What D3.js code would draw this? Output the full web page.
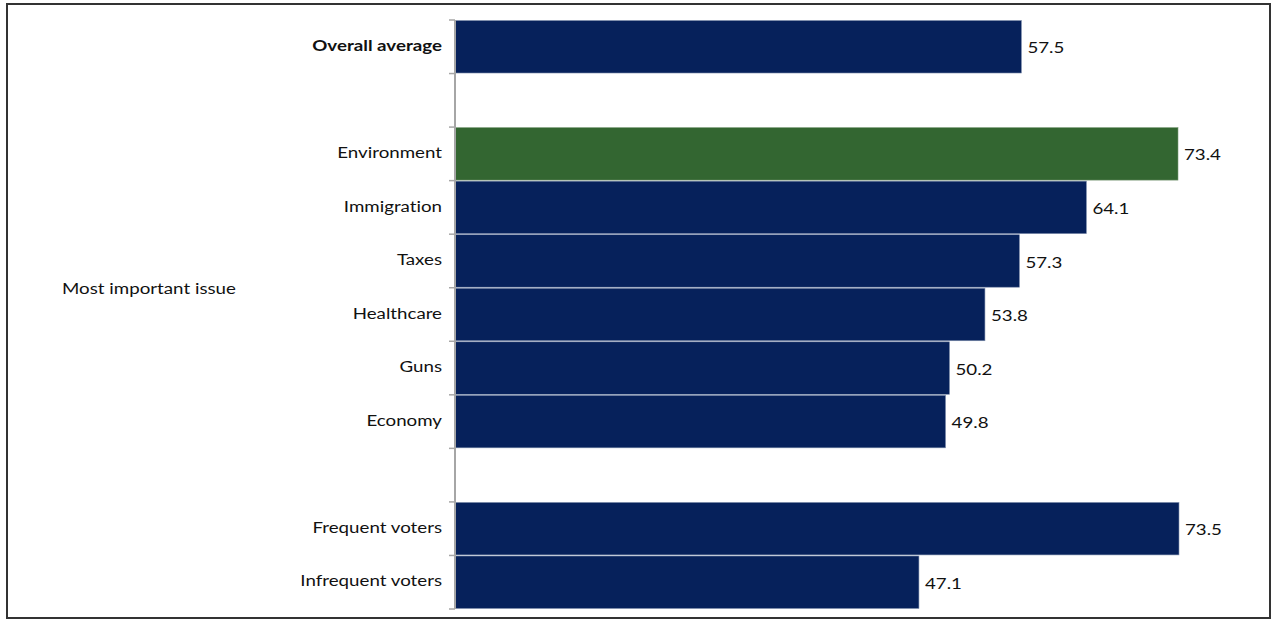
<!DOCTYPE html>
<html>
<head>
<meta charset="utf-8">
<script src="https://cdn.jsdelivr.net/npm/d3@7"></script>
<style>
  html, body { margin: 0; padding: 0; background: #fff; }
  svg { display: block; }
  text { font-family: Lato, "Open Sans", "Liberation Sans", sans-serif; fill: #111; font-variant-ligatures: none; }
</style>
</head>
<body>
<svg id="chart" width="1273" height="620"></svg>
<script>
// Rows from top to bottom; empty strings are spacer rows
const categories = ["Overall average", "", "Environment", "Immigration", "Taxes", "Healthcare", "Guns", "Economy", "", "Frequent voters", "Infrequent voters"];
const values = [57.5, null, 73.4, 64.1, 57.3, 53.8, 50.2, 49.8, null, 73.5, 47.1];
const highlighted = ["Environment"];
const boldLabels = ["Overall average"];
const groupLabel = "Most important issue";

const svg = d3.select("#chart");
const fontSize = 16;
const stretch = 1.17; // wide lettering

// outer frame
svg.append("rect")
  .attr("x", 7).attr("y", 4)
  .attr("width", 1263).attr("height", 614)
  .attr("fill", "none").attr("stroke", "#333").attr("stroke-width", 2);

const x0 = 455, plotTop = 20, plotBottom = 609;
const rowKeys = categories.map((c, i) => i);

const x = d3.scaleLinear().domain([0, 73.4]).range([x0, 1178]);
const y = d3.scaleBand().domain(rowKeys).range([plotTop, plotBottom]).paddingInner(0.02).paddingOuter(0.01);
const yTicks = d3.scaleBand().domain(rowKeys).range([plotTop, plotBottom]);

const rows = categories.map((c, i) => ({ i, c, v: values[i] }));
const place = (px, py) => `translate(${px},${py}) scale(${stretch},1)`;

// bars
svg.append("g").selectAll("rect")
  .data(rows.filter(d => d.v !== null))
  .join("rect")
  .attr("x", x(0))
  .attr("y", d => y(d.i))
  .attr("width", d => x(d.v) - x(0))
  .attr("height", y.bandwidth())
  .attr("fill", d => highlighted.includes(d.c) ? "#336631" : "#06215b")
  .attr("stroke", d => highlighted.includes(d.c) ? "#7a9a76" : "#7c8cab")
  .attr("stroke-width", 0.6);

// value labels
svg.append("g").selectAll("text")
  .data(rows.filter(d => d.v !== null))
  .join("text")
  .attr("transform", d => place(x(d.v) + 6, yTicks(d.i) + yTicks.bandwidth() / 2 + 1))
  .attr("dy", "0.35em")
  .attr("font-size", fontSize)
  .text(d => d.v.toFixed(1));

// category axis with ticks on the band boundaries
const axisG = svg.append("g");
axisG.append("line")
  .attr("x1", x0).attr("x2", x0)
  .attr("y1", plotTop).attr("y2", plotBottom)
  .attr("stroke", "#a6a6a6").attr("stroke-width", 2);
const boundaries = rowKeys.map(k => yTicks(k)).concat([plotBottom]);
axisG.selectAll("line.tick")
  .data(boundaries)
  .join("line")
  .attr("class", "tick")
  .attr("x1", x0 - 6).attr("x2", x0)
  .attr("y1", d => d).attr("y2", d => d)
  .attr("stroke", "#a6a6a6").attr("stroke-width", 1.5);

// category labels
svg.append("g").selectAll("text")
  .data(rows.filter(d => d.c !== ""))
  .join("text")
  .attr("transform", d => place(442, yTicks(d.i) + yTicks.bandwidth() / 2 - 1.5))
  .attr("dy", "0.35em")
  .attr("text-anchor", "end")
  .attr("font-size", fontSize)
  .attr("font-weight", d => boldLabels.includes(d.c) ? "bold" : "normal")
  .text(d => d.c);

// group label for the issue rows
const issueRows = rows.filter(d => d.i >= 2 && d.i <= 7);
const gy = (yTicks(issueRows[0].i) + yTicks(issueRows[issueRows.length - 1].i) + yTicks.bandwidth()) / 2;
svg.append("text")
  .attr("transform", place(62, gy + 0.5))
  .attr("dy", "0.35em")
  .attr("font-size", fontSize)
  .text(groupLabel);
</script>
</body>
</html>
